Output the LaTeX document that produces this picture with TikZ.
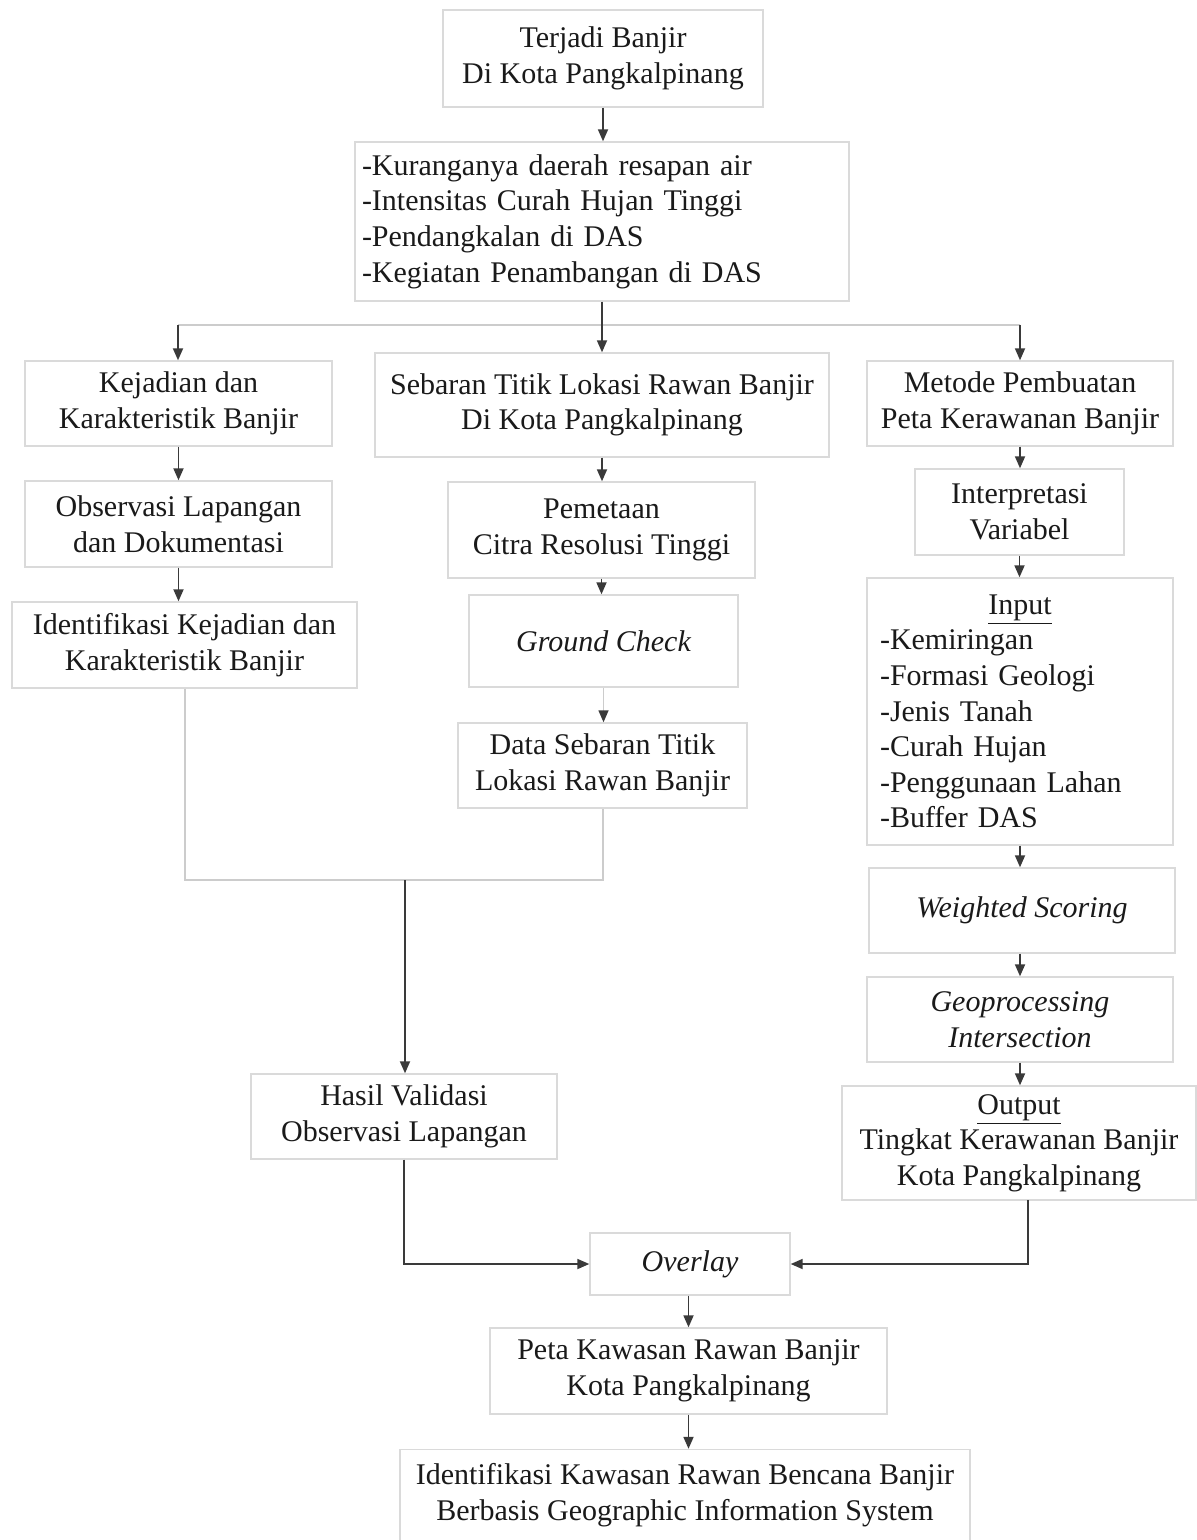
\documentclass[tikz,border=0pt]{standalone}
\usepackage{fontspec}
\setmainfont{Liberation Serif}
\usetikzlibrary{arrows.meta}
\definecolor{boxline}{HTML}{DADADA}
\definecolor{arrowc}{HTML}{3A3A3A}
\definecolor{lightline}{HTML}{CCCCCC}
\definecolor{txt}{HTML}{1A1A1A}
\begin{document}
\begin{tikzpicture}[x=0.5pt,y=-0.5pt,
  box/.style={draw=boxline, line width=0.7pt, rectangle, inner sep=0pt, align=center,
    text=txt, font=\fontsize{15}{17.8}\selectfont},
  arr/.style={draw=arrowc, line width=0.9pt, -{Triangle[length=6pt,width=5pt]}},
  lite/.style={draw=lightline, line width=0.7pt},
  litearr/.style={draw=lightline, line width=0.7pt, -{Triangle[length=6pt,width=5pt,color=arrowc]}}]
\useasboundingbox[fill=white] (0,0) rectangle (1196,1540);

% nodes
\node[box, minimum width=160pt, minimum height=48.5pt] (t1) at (603,58.5) {Terjadi Banjir\\Di Kota Pangkalpinang};
\node[box, minimum width=247pt, minimum height=79.5pt, text width=240pt, align=left, inner xsep=3.5pt] (causes) at (602,221.5)
 {-Kuranganya daerah resapan air\\-Intensitas Curah Hujan Tinggi\\-Pendangkalan di DAS\\-Kegiatan Penambangan di DAS};
\node[box, minimum width=153.5pt, minimum height=42.5pt] (kej) at (178.5,403.5) {Kejadian dan\\Karakteristik Banjir};
\node[box, minimum width=227pt, minimum height=52pt] (seb) at (602,405) {Sebaran Titik Lokasi Rawan Banjir\\Di Kota Pangkalpinang};
\node[box, minimum width=153pt, minimum height=42.5pt] (met) at (1020,403.5) {Metode Pembuatan\\Peta Kerawanan Banjir};
\node[box, minimum width=153.5pt, minimum height=43pt] (obs) at (178.5,524) {Observasi Lapangan\\dan Dokumentasi};
\node[box, minimum width=172.5pt, minimum height=43pt] (ident) at (184.5,645) {Identifikasi Kejadian dan\\Karakteristik Banjir};
\node[box, minimum width=153.5pt, minimum height=48pt] (pem) at (601.5,530) {Pemetaan\\Citra Resolusi Tinggi};
\node[box, minimum width=134.5pt, minimum height=46pt] (gc) at (603.5,641) {\itshape Ground Check};
\node[box, minimum width=144.5pt, minimum height=42.5pt] (data) at (602.5,765.5) {Data Sebaran Titik\\Lokasi Rawan Banjir};
\node[box, minimum width=104.5pt, minimum height=43pt] (interp) at (1019.5,512) {Interpretasi\\Variabel};
\node[box, minimum width=153pt, minimum height=133.5pt, text width=140pt, align=left, inner xsep=6.5pt] (input) at (1020,711.5)
 {\makebox[140pt]{\underline{Input}}\\-Kemiringan\\-Formasi Geologi\\-Jenis Tanah\\-Curah Hujan\\-Penggunaan Lahan\\-Buffer DAS};
\node[box, minimum width=153pt, minimum height=42.5pt] (ws) at (1022,910.5) {\itshape Weighted Scoring};
\node[box, minimum width=153pt, minimum height=42.5pt] (geo) at (1020,1019.5) {\itshape Geoprocessing\\\itshape Intersection};
\node[box, minimum width=177pt, minimum height=57pt] (out) at (1019,1143) {\underline{Output}\\Tingkat Kerawanan Banjir\\Kota Pangkalpinang};
\node[box, minimum width=153pt, minimum height=42.5pt] (hasil) at (404,1116.5) {Hasil Validasi\\Observasi Lapangan};
\node[box, minimum width=100pt, minimum height=31pt] (ovl) at (690,1264) {\itshape Overlay};
\node[box, minimum width=198.5pt, minimum height=43pt] (peta) at (688.5,1371) {Peta Kawasan Rawan Banjir\\Kota Pangkalpinang};
\node[box, minimum width=285pt, minimum height=45.5pt] (final) at (685,1495) {Identifikasi Kawasan Rawan Bencana Banjir\\Berbasis Geographic Information System};

% branching
\coordinate (bl) at (178,325);
\coordinate (br) at (1020,325);
\draw[lite] (bl) -- (br);
\draw[arr] (t1.south) -- (t1.south |- causes.north);
\draw[arr] (causes.south) -- (causes.south |- seb.north);
\draw[arr] (bl) -- (bl |- kej.north);
\draw[arr] (br) -- (br |- met.north);

% left column
\draw[arr] (kej.south) -- (kej.south |- obs.north);
\draw[arr] (obs.south) -- (obs.south |- ident.north);

% middle column
\draw[arr] (seb.south) -- (seb.south |- pem.north);
\draw[arr] (pem.south) -- (pem.south |- gc.north);
\draw[litearr] (gc.south) -- (gc.south |- data.north);

% merge
\coordinate (ml) at (185,880);
\coordinate (mr) at (603,880);
\coordinate (mm) at (405,880);
\draw[lite] (ml |- ident.south) -- (ml) -- (mr) -- (mr |- data.south);
\draw[arr] (mm) -- (mm |- hasil.north);

% right column
\draw[arr] (met.south) -- (met.south |- interp.north);
\draw[arr] (interp.south) -- (interp.south |- input.north);
\draw[arr] (input.south) -- (input.south |- ws.north);
\draw[arr] (ws.south -| geo.north) -- (geo.north);
\draw[arr] (geo.south) -- (geo.south |- out.north);

% bottom
\coordinate (rc) at (1028,1200);
\draw[arr] (hasil.south) |- (ovl.west);
\draw[arr] (rc) |- (ovl.east);
\draw[arr] (ovl.south -| peta.north) -- (peta.north);
\draw[arr] (peta.south) -- (peta.south |- final.north);
\end{tikzpicture}
\end{document}
